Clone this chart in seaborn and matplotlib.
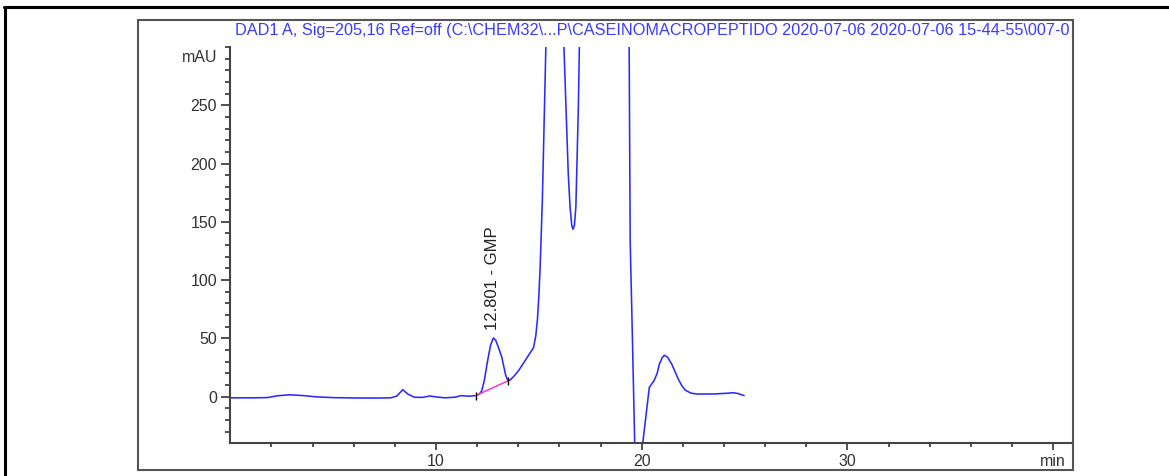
import matplotlib
matplotlib.use('Agg')

import numpy as np
import pandas as pd
import matplotlib.pyplot as plt
import seaborn as sns
from matplotlib.patches import Rectangle
from matplotlib.lines import Line2D
from matplotlib.transforms import Bbox

# chromatogram trace (min, mAU); the big peaks run off-scale
time_min = [0.0, 1.0, 1.8, 2.3, 2.9, 3.5, 4.2, 5.0, 6.0, 7.0, 7.8, 8.1, 8.38, 8.65,
            8.95, 9.35, 9.7, 10.05, 10.45, 10.95, 11.2, 11.6, 11.93, 12.1, 12.22, 12.35,
            12.5, 12.65, 12.79, 12.9, 13.0, 13.1, 13.2, 13.3, 13.38, 13.45, 13.51, 13.6,
            13.75, 14.0, 14.3, 14.54, 14.74, 14.85, 14.93, 15.0, 15.06,
            15.17, 15.34, 15.55, 15.85, 16.05, 16.22, 16.32, 16.43, 16.52, 16.6, 16.66,
            16.73, 16.8, 16.92, 16.97, 17.3, 18.2, 19.0, 19.25, 19.39, 19.44, 19.54, 19.66,
            19.85, 20.05, 20.37, 20.6, 20.75, 20.86, 21.0, 21.1, 21.25, 21.46, 21.78,
            21.95, 22.11, 22.4, 22.68, 23.49, 24.2, 24.46, 24.7, 24.98]
signal_mau = [-1.0, -1.0, -0.8, 0.8, 1.6, 1.0, -0.2, -0.8, -1.1, -1.2, -1.0, 0.5, 6.0, 2.0,
              -0.5, -0.6, 0.6, -0.3, -1.0, -0.4, 0.9, 0.4, 0.9, 2.0, 5.0, 14.0,
              30.0, 44.0, 50.4, 48.5, 44.0, 39.0, 33.8, 25.5, 19.0, 15.5, 13.7, 14.3,
              16.8, 22.0, 30.0, 36.6, 42.0, 52.0, 66.0, 86.0, 110.0,
              168.0, 300.0, 700.0, 950.0, 650.0, 300.0, 248.0, 191.0, 162.0, 147.0, 143.6,
              147.0, 163.0, 248.0, 300.0, 900.0, 1100.0, 950.0, 600.0, 300.0, 134.0, 57.0,
              -40.0, -130.0, -40.0, 8.0, 13.7, 20.0, 28.0, 33.5, 35.5, 34.0, 28.0, 15.0,
              9.5, 5.7, 3.0, 2.3, 2.3, 3.0, 3.4, 2.6, 0.9]

# integration baseline of the GMP peak
baseline_t = [11.93, 13.51]
baseline_v = [0.9, 13.7]

peak_rt = 12.801
peak_name = "GMP"

title = ("DAD1 A, Sig=205,16 Ref=off (C:\\CHEM32\\...P\\CASEINOMACROPEPTIDO "
         "2020-07-06 2020-07-06 15-44-55\\007-0")

y_major = [0, 50, 100, 150, 200, 250]
x_major = [10, 20, 30, 40]
x_labels = ["10", "20", "30", "min"]

sns.set_style("ticks")
plt.rcParams['font.family'] = ['Liberation Sans', 'DejaVu Sans']

W, H = 1169, 476
fig = plt.figure(figsize=(W / 100, H / 100), dpi=100)

ax_l, ax_r, ax_t, ax_b = 230.3, 1072, 47, 443.3
ax = fig.add_axes([ax_l / W, 1 - ax_b / H, (ax_r - ax_l) / W, (ax_b - ax_t) / H])

df = pd.DataFrame({"t": time_min, "mAU": signal_mau})
sns.lineplot(data=df, x="t", y="mAU", ax=ax, color="#2a2aff", lw=1.15,
             sort=False, estimator=None)
ax.plot(baseline_t, baseline_v, color="#ff33cc", lw=1.1)
ax.plot(baseline_t, baseline_v, ls="none", marker="|", ms=6, mew=1.0, color="black")

ax.set_xlim(0, (ax_r - ax_l) / 20.57)
ax.set_ylim(-40, 300)
ax.set_xlabel("")
ax.set_ylabel("")

ax.set_yticks(y_major)
ax.set_yticks(np.arange(-30, 301, 10), minor=True)
ax.set_xticks(x_major)
ax.set_xticklabels(x_labels)
ax.set_xticks(np.arange(2, 41, 2), minor=True)

ax.tick_params(axis="y", which="major", length=6.5, width=1.2, pad=3,
               labelsize=11.5, colors="#333333")
ax.tick_params(axis="y", which="minor", length=3.5, width=1.2, colors="#333333")
ax.tick_params(axis="x", which="major", length=5, width=1.2, pad=3,
               labelsize=11.5, colors="#333333")
ax.tick_params(axis="x", which="minor", length=3, width=1.2, colors="#333333")

for s in ["top", "right"]:
    ax.spines[s].set_visible(False)
for s in ["left", "bottom"]:
    ax.spines[s].set_color("#444444")
    ax.spines[s].set_linewidth(1.5)

ax.text(-0.63, 291, "mAU", ha="right", va="center", fontsize=11.5, color="#333333",
        clip_on=False)
ax.text(12.77, 57, f"{peak_rt:.3f} - {peak_name}", rotation=90, ha="center",
        va="bottom", fontsize=12, color="#222222")

# report frame and page border
fig.patches.append(Rectangle((138 / W, 1 - 470 / H), (1073 - 138) / W, (470 - 19.5) / H,
                             transform=fig.transFigure, fill=False,
                             edgecolor="#555555", lw=1.5))
fig.lines.append(Line2D([4 / W, 1], [1 - 7 / H, 1 - 7 / H], transform=fig.transFigure,
                        color="black", lw=2.2))
fig.lines.append(Line2D([5 / W, 5 / W], [0, 1 - 7 / H], transform=fig.transFigure,
                        color="black", lw=2.2))

t = fig.text(235 / W, 1 - 31 / H, title, ha="left", va="center", fontsize=11.7,
             color="#3b3bff")
t.set_clip_box(Bbox.from_extents(0, 0, 1072, H))
t.set_clip_on(True)

fig.savefig("out.png", dpi=100)
